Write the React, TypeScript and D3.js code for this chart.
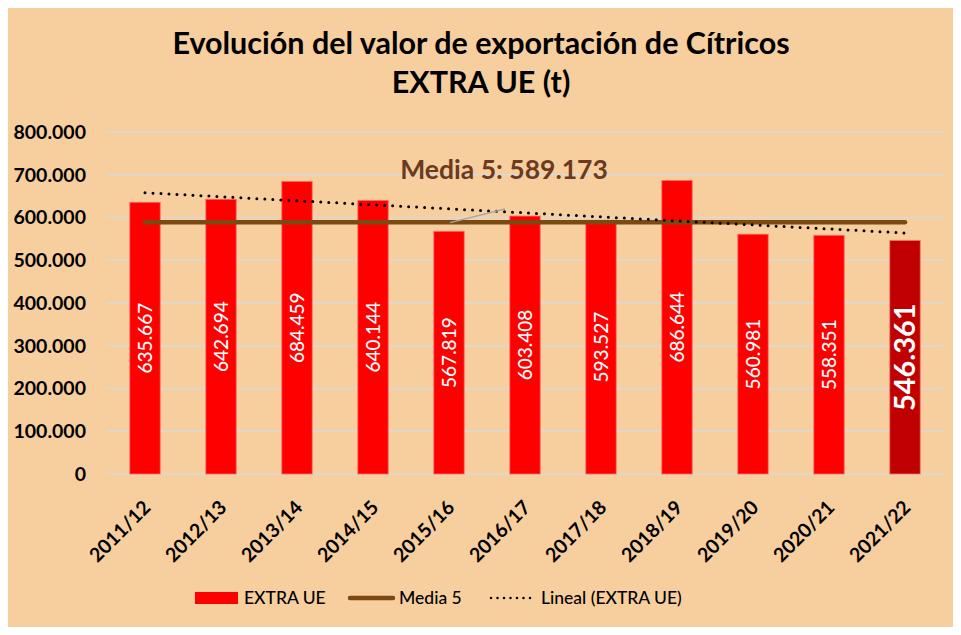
import * as d3 from 'd3'
import { useEffect, useRef } from 'react'

const width = 961
const height = 635
const marginLeft = 107
const marginRight = 18
const plotTop = 132
const plotBottom = 474

const seasons = ['2011/12', '2012/13', '2013/14', '2014/15', '2015/16', '2016/17', '2017/18', '2018/19', '2019/20', '2020/21', '2021/22']
const exports = [635667, 642694, 684459, 640144, 567819, 603408, 593527, 686644, 560981, 558351, 546361]
const media5 = 589173
const yTicks = [0, 100000, 200000, 300000, 400000, 500000, 600000, 700000, 800000]

const fmt = (v: number) => d3.format(',')(v).replace(/,/g, '.')
const font = 'Lato, "Open Sans", sans-serif'

export default function App() {
  const ref = useRef(null)

  useEffect(() => {
    const svg = d3.select(ref.current)
    svg.selectAll('*').remove()

    svg.append('rect').attr('width', width).attr('height', height).attr('fill', '#F7CE9E')
    svg.append('rect').attr('width', width).attr('height', 3).attr('fill', '#DADADA')

    const x = d3.scaleBand(seasons, [marginLeft, width - marginRight]).paddingInner(0.6).paddingOuter(0.3)
    const y = d3.scaleLinear([0, 800000], [plotBottom, plotTop])

    // title
    const title = svg.append('text').attr('text-anchor', 'middle').attr('font-family', font)
      .attr('font-weight', 'bold').attr('font-size', 30.5).attr('fill', '#000')
    title.append('tspan').attr('x', 481).attr('y', 54).text('Evolución del valor de exportación de Cítricos')
    title.append('tspan').attr('x', 481).attr('y', 93).text('EXTRA UE (t)')

    // grid + y axis
    svg.append('g').selectAll('line').data(yTicks).join('line')
      .attr('x1', marginLeft).attr('x2', width - marginRight)
      .attr('y1', d => y(d)).attr('y2', d => y(d))
      .attr('stroke', '#D9D9D9').attr('stroke-width', 1.5)
    svg.append('g').selectAll('text').data(yTicks).join('text')
      .attr('x', 86).attr('y', d => y(d)).attr('dy', '0.35em').attr('text-anchor', 'end')
      .attr('font-family', font).attr('font-weight', 'bold').attr('font-size', 19.5).attr('fill', '#000')
      .text(d => fmt(d))

    // bars
    const last = seasons.length - 1
    svg.append('g').selectAll('rect').data(exports).join('rect')
      .attr('x', (_, i) => x(seasons[i])!).attr('width', x.bandwidth())
      .attr('y', d => y(d)).attr('height', d => y(0) - y(d))
      .attr('fill', (_, i) => (i === last ? '#C00000' : '#FF0000'))
      .attr('stroke', '#F4726A').attr('stroke-width', 0.8)

    // bar labels
    svg.append('g').selectAll('text').data(exports).join('text')
      .attr('transform', (d, i) => `translate(${x(seasons[i])! + x.bandwidth() / 2},${(y(d) + y(0)) / 2}) rotate(-90)`)
      .attr('text-anchor', 'middle').attr('dy', '0.35em')
      .attr('font-family', font).attr('fill', '#fff')
      .attr('font-size', (_, i) => (i === last ? 29 : 19))
      .attr('font-weight', (_, i) => (i === last ? 'bold' : 500))
      .text(d => fmt(d))

    const cx = (i: number) => x(seasons[i])! + x.bandwidth() / 2

    // media 5 line
    svg.append('line').attr('x1', cx(0)).attr('x2', cx(last))
      .attr('y1', y(media5)).attr('y2', y(media5))
      .attr('stroke', '#7B4A12').attr('stroke-width', 4.5).attr('stroke-linecap', 'round')

    // linear trend
    const n = exports.length
    const xs = d3.range(n)
    const mx = d3.mean(xs)!
    const my = d3.mean(exports)!
    const slope = d3.sum(xs, i => (i - mx) * (exports[i] - my)) / d3.sum(xs, i => (i - mx) ** 2)
    const icpt = my - slope * mx
    svg.append('line').attr('x1', cx(0)).attr('x2', cx(last))
      .attr('y1', y(icpt)).attr('y2', y(icpt + slope * last))
      .attr('stroke', '#000').attr('stroke-width', 3).attr('stroke-linecap', 'round')
      .attr('stroke-dasharray', '0 8')

    // media label + leader
    svg.append('line').attr('x1', 450).attr('y1', y(media5) + 0.5).attr('x2', 505).attr('y2', 209)
      .attr('stroke', '#A6A6A6').attr('stroke-width', 1.5)
    svg.append('text').attr('x', 504).attr('y', 179).attr('text-anchor', 'middle')
      .attr('font-family', font).attr('font-weight', 'bold').attr('font-size', 26.5).attr('fill', '#6B3A1F')
      .text(`Media 5: ${fmt(media5)}`)

    // x axis labels
    svg.append('g').selectAll('text').data(seasons).join('text')
      .attr('transform', (_, i) => `translate(${cx(i) + 2},${plotBottom + 30}) rotate(-45)`)
      .attr('text-anchor', 'end').attr('dy', '0.35em')
      .attr('font-family', font).attr('font-weight', 'bold').attr('font-size', 19.5).attr('fill', '#000')
      .text(d => d)

    // legend
    const lg = svg.append('g').attr('font-family', font).attr('font-size', 17.5).attr('font-weight', 500).attr('fill', '#000')
    lg.append('rect').attr('x', 195).attr('y', 592).attr('width', 43).attr('height', 12).attr('fill', '#FF0000')
    lg.append('text').attr('x', 244).attr('y', 598).attr('dy', '0.35em').text('EXTRA UE')
    lg.append('line').attr('x1', 350).attr('x2', 393).attr('y1', 598).attr('y2', 598)
      .attr('stroke', '#7B4A12').attr('stroke-width', 4.5).attr('stroke-linecap', 'round')
    lg.append('text').attr('x', 399).attr('y', 598).attr('dy', '0.35em').text('Media 5')
    lg.append('line').attr('x1', 491).attr('x2', 533).attr('y1', 598).attr('y2', 598)
      .attr('stroke', '#000').attr('stroke-width', 2.5).attr('stroke-linecap', 'round').attr('stroke-dasharray', '0 6.5')
    lg.append('text').attr('x', 541).attr('y', 598).attr('dy', '0.35em').text('Lineal (EXTRA UE)')
  }, [])

  return <svg ref={ref} width={width} height={height} style={{ display: 'block', margin: -8 }}></svg>
}
